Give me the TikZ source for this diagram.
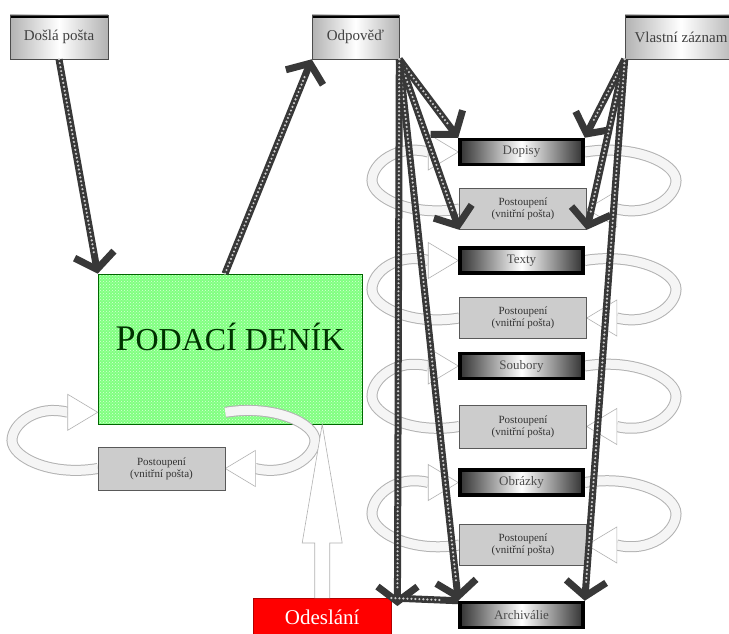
\documentclass[tikz,border=0pt]{standalone}
\usepackage{fontspec}
\setmainfont{Liberation Serif}
\usetikzlibrary{arrows.meta,patterns,calc}
\pgfdeclarelayer{back}
\pgfdeclarelayer{mid}
\pgfsetlayers{back,mid,main}

% curved block arrow: #1 start point, #2 tip point, #3 x of the outer turn
\newcommand\turnarrow[3]{%
  \path (#1); \pgfgetlastxy{\xa}{\ya}%
  \path (#2); \pgfgetlastxy{\xb}{\yb}%
  \pgfmathsetmacro\sx{\xa}\pgfmathsetmacro\sy{0-(\ya)}%
  \pgfmathsetmacro\tx{\xb}\pgfmathsetmacro\ty{0-(\yb)}%
  \pgfmathsetmacro\my{(\sy+\ty)/2}%
  \pgfmathsetmacro\dir{(#3>\tx) ? 1 : -1}%
  \pgfmathsetmacro\oy{(\sy<\my) ? -8 : 8}%
  \pgfmathsetmacro\bx{\tx+\dir*30}%
  \pgfmathsetmacro\cA{\sx+0.55*(#3-\sx)}%
  \pgfmathsetmacro\cB{\my+0.6*(\sy-\my)}%
  \pgfmathsetmacro\cC{\my+0.6*(\ty-\my)}%
  \pgfmathsetmacro\cD{\bx+0.55*(#3-\bx)}%
  \def\bandpath{(\sx,\sy) .. controls (\cA,\sy+\oy) and (#3,\cB) .. (#3,\my)
     .. controls (#3,\cC) and (\cD,\ty-\oy) .. (\bx,\ty)}%
  \draw[band] \bandpath;
  \draw[bandin] \bandpath;
  \draw[blockhead] (\bx,\ty-18) -- (\tx,\ty) -- (\bx,\ty+18) -- cycle;
}

\begin{document}
\begin{tikzpicture}[x=1pt,y=-1pt,
  topbox/.style={draw=gray!60!black, line width=0.6pt,
    left color=gray!60, right color=gray!60, middle color=white,
    minimum width=98pt, minimum height=44pt, inner sep=0pt,
    text=black!75, font=\fontsize{15}{16}\selectfont,
    path picture={\fill[black] (path picture bounding box.north west)
      rectangle ([yshift=-3pt]path picture bounding box.north east);}},
  catbox/.style={draw=black, line width=3.5pt,
    left color=black!80, right color=black!80, middle color=white,
    minimum width=123pt, minimum height=25pt, inner sep=0pt,
    text=black!70, font=\fontsize{13}{14}\selectfont},
  fwdbox/.style={draw=gray!70!black, line width=0.6pt, fill=gray!40,
    minimum width=127pt, minimum height=41pt, inner sep=1pt, align=center,
    text=black!80, font=\fontsize{11}{12}\selectfont},
  chain/.style={draw=black!78, line width=7pt,
    -{Straight Barb[length=15pt,width=40pt,line width=7pt]},
    postaction={draw=gray!40, line width=2.4pt, dash pattern=on 0pt off 4pt,
      line cap=round, -, shorten >=18pt}},
  band/.style={line width=11pt, draw=gray!60},
  bandin/.style={line width=9pt, draw=gray!8},
  blockhead/.style={fill=white, draw=gray!60, line width=0.6pt, line join=miter},
]
\clip (0,0) rectangle (729,634);

% top sources
\node[topbox] (dosla) at (59,37) {Došlá pošta};
\node[topbox, minimum width=87pt] (odpoved) at (355.5,37) {Odpověď};
\node[topbox, minimum width=112pt] (vlastni) at (681,37) {Vlastní záznam};

% registry
\begin{pgfonlayer}{back}
\fill[white] (0,0) rectangle (729,634);
\node[draw=green!40!black, line width=0.6pt, preaction={fill=green!50},
      pattern=crosshatch dots, pattern color=green!15,
      minimum width=264pt, minimum height=150pt, inner sep=0pt] (denik) at (230,349) {};
\end{pgfonlayer}
\node[text=green!20!black, inner sep=0pt] (title) at ([yshift=12pt]denik.center)
  {\fontsize{36}{38}\selectfont P\fontsize{32}{34}\selectfont ODACÍ DENÍK};

\node[fwdbox, minimum height=43pt] (lfwd) at (161.5,468.5) {Postoupení\\(vnitřní pošta)};

% sending
\node[fill=red, draw=red!70!black, minimum width=138pt, minimum height=38pt,
      text=white, font=\fontsize{21}{22}\selectfont, anchor=north west, inner sep=0pt]
      (odeslani) at (253,598) {Odeslání};

% right column
\node[catbox] (dopisy) at (521.5,152) {Dopisy};
\node[fwdbox] (g1) at (523,209) {Postoupení\\(vnitřní pošta)};
\node[catbox] (texty) at (521.5,260.5) {Texty};
\node[fwdbox] (g2) at (523,318) {Postoupení\\(vnitřní pošta)};
\node[catbox] (soubory) at (521.5,366) {Soubory};
\node[fwdbox, minimum height=43pt] (g3) at (523,426.5) {Postoupení\\(vnitřní pošta)};
\node[catbox] (obrazky) at (521.5,482.5) {Obrázky};
\node[fwdbox] (g4) at (523,545) {Postoupení\\(vnitřní pošta)};
\node[catbox] (archiv) at (521.5,615) {Archiválie};

% forwarding loops
\begin{pgfonlayer}{mid}
\coordinate (hook) at ([xshift=-137pt,yshift=12pt]denik.south east);
\turnarrow{hook}{lfwd.east}{315}
\turnarrow{lfwd.west}{[yshift=12pt]denik.south west}{12}
\turnarrow{dopisy.east}{g1.east}{676}
\turnarrow{g1.west}{dopisy.west}{372}
\turnarrow{texty.east}{g2.east}{676}
\turnarrow{g2.west}{texty.west}{372}
\turnarrow{soubory.east}{g3.east}{676}
\turnarrow{g3.west}{soubory.west}{372}
\turnarrow{obrazky.east}{g4.east}{676}
\turnarrow{g4.west}{obrazky.west}{372}
\end{pgfonlayer}

% sending into the registry
\draw[blockhead] ($(odeslani.north)+(-7.5,0)$) -- ($(odeslani.north)+(-7.5,-55)$)
  -- ($(odeslani.north)+(-20,-55)$) -- (denik.south -| odeslani.north)
  -- ($(odeslani.north)+(20,-55)$) -- ($(odeslani.north)+(7.5,-55)$)
  -- ($(odeslani.north)+(7.5,0)$);

% document flows
\draw[chain] (dosla.south) -- (denik.north west);
\draw[chain] ([xshift=-5pt]denik.north) -- (odpoved.south west);
\draw[chain] (odpoved.south east) -- (dopisy.north west);
\draw[chain] (odpoved.south east) -- (g1.south west);
\draw[chain] (odpoved.south east) -- (archiv.north west);
\draw[chain] (odpoved.south east) -- ([xshift=6pt,yshift=-8pt]odeslani.north east);
\draw[chain] (vlastni.south west) -- (dopisy.north east);
\draw[chain] (vlastni.south west) -- (g1.south east);
\draw[chain] (vlastni.south west) -- (archiv.north east);
\draw[chain, -] (odeslani.north east) -- (archiv.north west);
\end{tikzpicture}
\end{document}
